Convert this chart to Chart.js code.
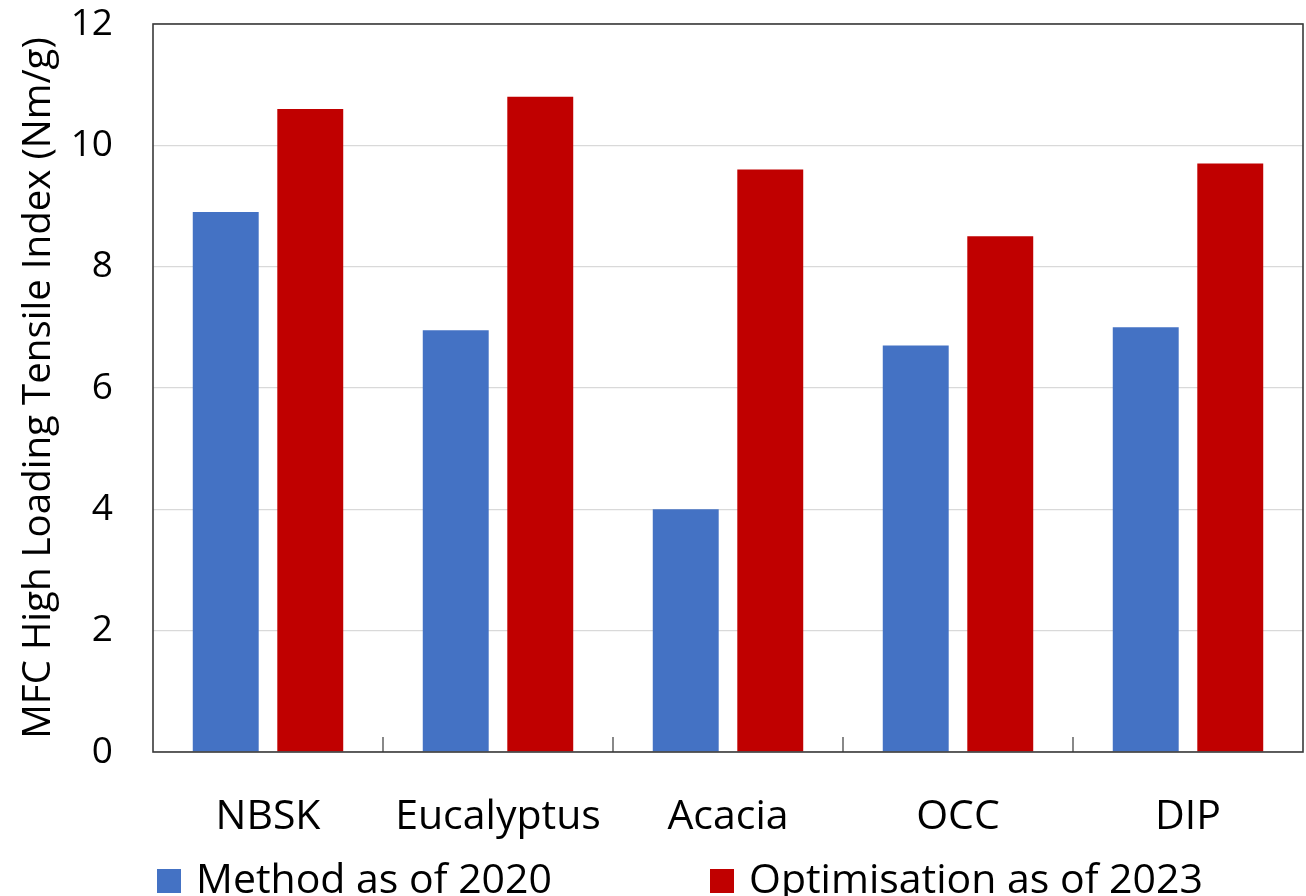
<!DOCTYPE html>
<html>
<head>
<meta charset="utf-8">
<script src="https://cdn.jsdelivr.net/npm/chart.js@4"></script>
<style>
  html, body { margin: 0; padding: 0; background: #fff; }
  #wrap { position: relative; width: 1306px; height: 896px; }
  #legend { position: absolute; left: 0; top: 852px; width: 1306px; height: 50px;
            font-family: "Open Sans", sans-serif; font-size: 41px; color: #000; }
  .item { position: absolute; top: 0; white-space: nowrap; line-height: 50px; }
  .box { display: inline-block; width: 24px; height: 24px; margin-right: 15px; vertical-align: 0px; }
</style>
</head>
<body>
<div id="wrap">
  <canvas id="chart" width="1306" height="896"></canvas>
  <div id="legend"></div>
</div>
<script>
const categories = ["NBSK", "Eucalyptus", "Acacia", "OCC", "DIP"];
const method2020 = [8.9, 6.95, 4.0, 6.7, 7.0];
const optimisation2023 = [10.6, 10.8, 9.6, 8.5, 9.7];
const seriesNames = ["Method as of 2020", "Optimisation as of 2023"];
const seriesColors = ["#4472C4", "#C00000"];
const yTicks = [0, 2, 4, 6, 8, 10, 12];

const fontFamily = '"Open Sans", sans-serif';

// box round the plot and the small inward ticks between categories
const framePlugin = {
  id: "frame",
  afterDraw(chart) {
    const ctx = chart.ctx;
    const area = chart.chartArea;
    const x = chart.scales.x;
    ctx.save();
    ctx.strokeStyle = "#3a3a3a";
    ctx.lineWidth = 1.6;
    ctx.strokeRect(area.left, area.top, area.right - area.left, area.bottom - area.top);
    ctx.lineWidth = 1.2;
    for (let i = 0; i < categories.length - 1; i++) {
      const px = (x.getPixelForValue(i) + x.getPixelForValue(i + 1)) / 2;
      ctx.beginPath();
      ctx.moveTo(px, area.bottom);
      ctx.lineTo(px, area.bottom - 15);
      ctx.stroke();
    }
    ctx.restore();
  },
};

const data = {
  labels: categories,
  datasets: [
    {
      label: seriesNames[0],
      data: method2020,
      backgroundColor: seriesColors[0],
      categoryPercentage: 0.735,
      barPercentage: 0.78,
    },
    {
      label: seriesNames[1],
      data: optimisation2023,
      backgroundColor: seriesColors[1],
      categoryPercentage: 0.735,
      barPercentage: 0.78,
    },
  ],
};

const config = {
  type: "bar",
  data: data,
  options: {
    responsive: false,
    animation: false,
    layout: { padding: { top: 24, right: 3, left: 0, bottom: 0 } },
    plugins: {
      legend: { display: false },
      tooltip: { enabled: false },
    },
    scales: {
      x: {
        grid: { display: false, drawTicks: false },
        border: { display: false },
        ticks: {
          color: "#000",
          padding: 41,
          font: { family: fontFamily, size: 41 },
          maxRotation: 0,
        },
        afterFit(scale) {
          scale.height = 144;
          scale.paddingLeft = 0;
          scale.paddingRight = 0;
        },
      },
      y: {
        min: 0,
        max: 12,
        afterBuildTicks(scale) {
          scale.ticks = yTicks.map((v) => ({ value: v }));
        },
        grid: { color: "#d9d9d9", lineWidth: 1.2, drawTicks: false },
        border: { display: false },
        ticks: {
          color: "#000",
          padding: 40,
          font: { family: fontFamily, size: 37 },
        },
        title: {
          display: true,
          text: "MFC High Loading Tensile Index (Nm/g)",
          color: "#000",
          font: { family: fontFamily, size: 38.5 },
          padding: { top: 16, bottom: 0 },
        },
        afterFit(scale) {
          scale.width = 153;
          scale.paddingTop = 0;
          scale.paddingBottom = 0;
        },
      },
    },
  },
  plugins: [framePlugin],
};

const myChart = new Chart(document.getElementById("chart"), config);

// legend built from the chart's own datasets
const legendDiv = document.getElementById("legend");
const legendLeft = [157, 710];
myChart.data.datasets.forEach((ds, i) => {
  const item = document.createElement("div");
  item.className = "item";
  item.style.left = legendLeft[i] + "px";
  const box = document.createElement("span");
  box.className = "box";
  box.style.background = ds.backgroundColor;
  item.appendChild(box);
  item.appendChild(document.createTextNode(ds.label));
  legendDiv.appendChild(item);
});
</script>
</body>
</html>
